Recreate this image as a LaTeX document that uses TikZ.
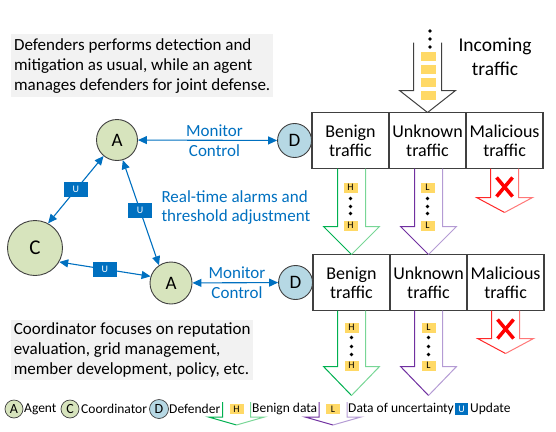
\documentclass[tikz,border=0pt]{standalone}
\usepackage{fontspec}
\setmainfont{Carlito}
\usetikzlibrary{positioning,calc,arrows.meta}

\definecolor{agentgreen}{RGB}{215,228,189}
\definecolor{defenderblue}{RGB}{182,216,228}
\definecolor{linkblue}{RGB}{0,112,192}
\definecolor{datayellow}{RGB}{255,217,102}
\definecolor{notegray}{RGB}{242,242,242}
\definecolor{edgegray}{RGB}{64,64,64}
\definecolor{benignleft}{RGB}{0,176,80}
\definecolor{benignright}{RGB}{120,214,150}
\definecolor{unknownleft}{RGB}{112,48,160}
\definecolor{unknownright}{RGB}{180,155,212}
\definecolor{maliciousleft}{RGB}{255,40,40}
\definecolor{maliciousright}{RGB}{255,120,120}

\newcommand{\fs}[2]{\fontsize{#1}{#2}\selectfont}

% top, tip, head length, left colour, right colour
\newcommand{\flowarrow}[5]{%
  \draw[#4, line width=1pt] ($(#2|-#1)+(-14,0)$) -- ($(#2)+(-14,-#3)$) -- ($(#2)+(-28,-#3)$) -- (#2);
  \draw[#5, line width=1pt] (#2) -- ($(#2)+(28,-#3)$) -- ($(#2)+(14,-#3)$) -- ($(#2|-#1)+(14,0)$);
}

\tikzset{
  agent/.style={circle, draw=edgegray, line width=0.9pt, fill=agentgreen, minimum size=41pt, inner sep=0pt, font=\fs{19}{22}},
  coordinator/.style={agent, minimum size=55pt, font=\fs{21}{24}},
  defender/.style={agent, fill=defenderblue, minimum size=34pt},
  legendnode/.style={agent, line width=0.7pt, minimum size=18pt, font=\fs{14}{16}},
  cell/.style={draw=edgegray, line width=1.3pt, minimum width=77pt, minimum height=56pt, outer sep=0pt, align=center, font=\fs{18}{19}},
  link/.style={linkblue, line width=1.1pt, {Triangle[length=9pt,width=8pt]}-{Triangle[length=9pt,width=8pt]}},
  linklabel/.style={text=linkblue, align=center, font=\fs{17}{20}},
  update/.style={fill=linkblue, text=white, minimum width=24pt, minimum height=15pt, inner sep=0pt, font=\fs{10}{10}},
  datatag/.style={fill=datayellow, minimum width=14pt, minimum height=10pt, inner sep=0pt, font=\fs{10}{10}},
  packet/.style={fill=datayellow, minimum width=15pt, minimum height=9pt, inner sep=0pt},
  dot/.style={circle, fill=black, minimum size=3.6pt, inner sep=0pt},
  note/.style={fill=notegray, anchor=north west, align=left, inner xsep=2pt, inner ysep=0pt, font=\fs{17}{20}},
  legendtext/.style={anchor=west, inner sep=0pt, font=\fs{13.5}{16}},
  cross/.style={red, line width=3.5pt},
}

\begin{document}
\begin{tikzpicture}[x=1pt,y=-1pt]
  \useasboundingbox (0,0) rectangle (556,431);

  \node[note, minimum width=262pt, minimum height=63pt] (defnote) at (11,34) {Defenders performs detection and\\mitigation as usual, while an agent\\manages defenders for joint defense.};
  \node[note, minimum width=242pt, minimum height=60pt] (coordnote) at (11,320) {Coordinator focuses on reputation\\evaluation, grid management,\\member development, policy, etc.};

  \node[cell] (benign1) at (350.5,140.5) {Benign\\traffic};
  \node[cell, right=0pt of benign1] (unknown1) {Unknown\\traffic};
  \node[cell, right=0pt of unknown1] (malicious1) {Malicious\\traffic};
  \node[cell] (benign2) at (351.5,282.5) {Benign\\traffic};
  \node[cell, right=0pt of benign2] (unknown2) {Unknown\\traffic};
  \node[cell, right=0pt of unknown2] (malicious2) {Malicious\\traffic};

  \node[defender, left=0pt of benign1] (D1) {D};
  \node[defender, left=0pt of benign2] (D2) {D};
  \node[agent] (A1) at (117,140) {A};
  \node[agent, minimum size=42pt] (A2) at (171,283) {A};
  \node[coordinator] (C) at (35,248) {C};

  \draw[link] (A1) -- node[linklabel, pos=0.55] (monitor1) {Monitor\\Control} (D1);
  \draw[link] (A2) -- node[linklabel, pos=0.52] (monitor2) {Monitor\\Control} (D2);
  \draw[link] (C.62) -- node[update] (u1) {U} (A1.-130);
  \draw[link] (A1.-74) -- node[update, pos=0.48] (u2) {U} (A2.124);
  \draw[link] (C.-30) -- node[update] (u3) {U} (A2.162);
  \node[linklabel, anchor=west, align=left, font=\fs{17}{19}] (alarms) at (158,207.5) {Real-time alarms and\\threshold adjustment};

  \coordinate (incoming) at ($(unknown1.north)+(0,-70)$);
  \flowarrow{incoming}{unknown1.north}{22}{edgegray}{edgegray}
  \foreach \y [count=\i] in {56.5,69,82,95}
    \node[packet] (packet\i) at (428.5,\y) {};
  \foreach \y [count=\i] in {31,39,47}
    \node[dot] (indot\i) at (430,\y) {};
  \node[align=center, font=\fs{19.5}{24}] (incomingtext) at (495,57) {Incoming\\traffic};

  \flowarrow{benign1.south}{benign2.north}{28}{benignleft}{benignright}
  \flowarrow{unknown1.south}{unknown2.north}{28}{unknownleft}{unknownright}
  \coordinate (drop1) at ($(malicious1.south)+(0,44)$);
  \flowarrow{malicious1.south}{drop1}{15}{maliciousleft}{maliciousright}

  \coordinate (out1) at ($(benign2.south)+(0,85)$);
  \coordinate (out2) at ($(unknown2.south)+(0,85)$);
  \coordinate (drop2) at ($(malicious2.south)+(0,43)$);
  \flowarrow{benign2.south}{out1}{29}{benignleft}{benignright}
  \flowarrow{unknown2.south}{out2}{29}{unknownleft}{unknownright}
  \flowarrow{malicious2.south}{drop2}{15}{maliciousleft}{maliciousright}

  \foreach \cell/\tag in {benign/H, unknown/L} {
    \node[datatag] (\cell tag1a) at ($(\cell1.south)+(0,19)$) {\tag};
    \node[datatag] (\cell tag1b) at ($(\cell1.south)+(0,57)$) {\tag};
    \node[datatag] (\cell tag2a) at ($(\cell2.south)+(0,17)$) {\tag};
    \node[datatag] (\cell tag2b) at ($(\cell2.south)+(0,55)$) {\tag};
    \foreach \d [count=\i] in {30,38,45}
      \node[dot] (\cell dot1\i) at ($(\cell1.south)+(0,\d)$) {};
    \foreach \d [count=\i] in {27,36,44}
      \node[dot] (\cell dot2\i) at ($(\cell2.south)+(0,\d)$) {};
  }

  \foreach \n in {1,2} {
    \draw[cross] ($(malicious\n.south)+(-8,9)$) -- ($(malicious\n.south)+(8,28)$);
    \draw[cross] ($(malicious\n.south)+(8,9)$) -- ($(malicious\n.south)+(-8,28)$);
  }

  \node[legendnode] (legA) at (14,409) {A};
  \node[legendtext] (legAtext) at (24,409) {Agent};
  \node[legendnode] (legC) at (70,409) {C};
  \node[legendtext] (legCtext) at (81,409) {Coordinator};
  \node[legendnode, fill=defenderblue, minimum size=19pt] (legD) at (159,409) {D};
  \node[legendtext] (legDtext) at (169,409) {Defender};
  \coordinate (legbenign) at (236.5,402);
  \coordinate (legbenigntip) at (236.5,425);
  \flowarrow{legbenign}{legbenigntip}{8}{benignleft}{benignright}
  \node[datatag] (legH) at (236.5,409) {H};
  \node[legendtext] (legHtext) at (252,409) {Benign data};
  \coordinate (legunknown) at (333,402);
  \coordinate (legunknowntip) at (333,425);
  \flowarrow{legunknown}{legunknowntip}{8}{unknownleft}{unknownright}
  \node[datatag] (legL) at (333,409) {L};
  \node[legendtext] (legLtext) at (348,409) {Data of uncertainty};
  \node[update, minimum width=13pt, minimum height=12pt] (legU) at (461.5,409) {U};
  \node[legendtext] (legUtext) at (470,409) {Update};
\end{tikzpicture}
\end{document}
